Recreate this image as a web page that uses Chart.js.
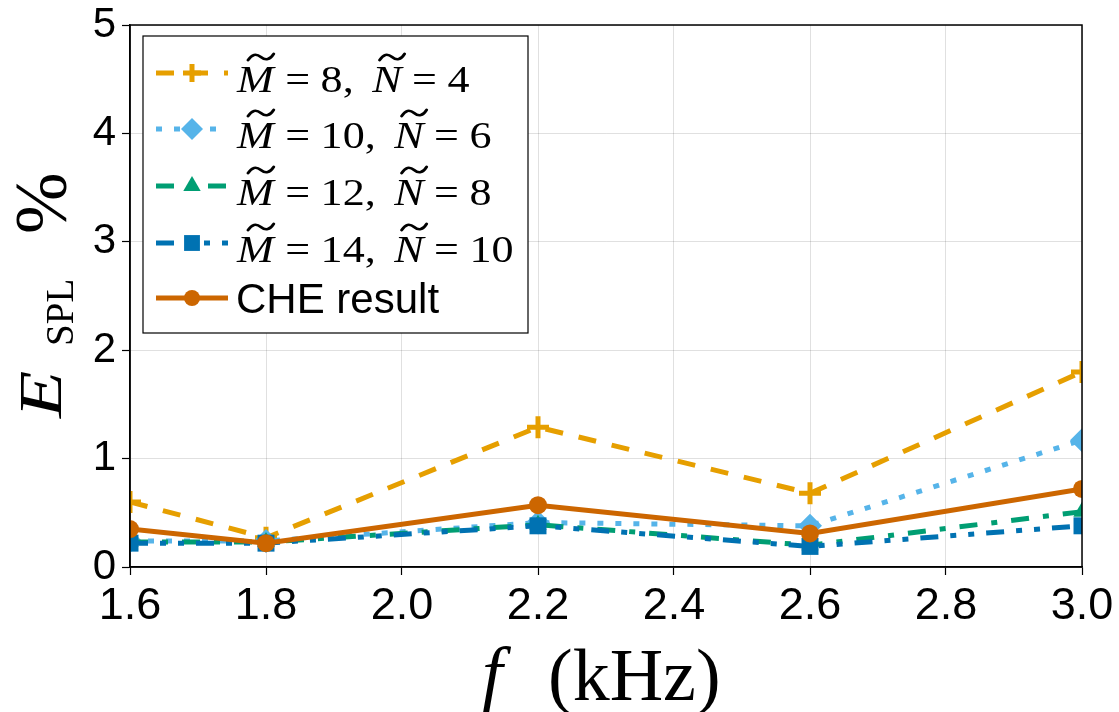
<!DOCTYPE html>
<html><head><meta charset="utf-8">
<script src="https://cdn.jsdelivr.net/npm/chart.js@4/dist/chart.umd.min.js"></script>
<style>html,body{margin:0;padding:0;background:#fff;}#wrap{width:1119px;height:712px;}</style>
</head><body><div id="wrap"><canvas id="c" width="1119" height="712"></canvas></div>
<script>
// ---- data ----
const freqs = [1.6, 1.8, 2.2, 2.6, 3.0];
const m8n4 = [0.60, 0.27, 1.29, 0.68, 1.80];
const m10n6 = [0.24, 0.24, 0.41, 0.38, 1.17];
const m12n8 = [0.23, 0.23, 0.39, 0.20, 0.51];
const m14n10 = [0.22, 0.22, 0.38, 0.19, 0.38];
const cheResult = [0.35, 0.22, 0.57, 0.31, 0.72];
const xTicks = [1.6, 1.8, 2.0, 2.2, 2.4, 2.6, 2.8, 3.0];
const yTicks = [0, 1, 2, 3, 4, 5];
const mValues = ['8', '10', '12', '14'];
const nValues = ['4', '6', '8', '10'];
const cheLabel = 'CHE result';
const xTitleVar = 'f';
const xTitleUnit = '(kHz)';
const yTitleMain = 'E';
const yTitleSub = 'SPL';
const yTitlePct = '%';

// ---- styles ----
const styles = [
  {color:'#E69F00', dash:[18,16], point:'cross', r:11, lr:9},
  {color:'#56B4E9', dash:[6,12], point:'rectRot', r:12, lr:11},
  {color:'#009E73', dash:[18,14,6,14], point:'triangle', r:10, lr:10},
  {color:'#0072B2', dash:[18,12,6,12,6,12], point:'rect', r:12, lr:11},
  {color:'#CC6600', dash:[], point:'circle', r:9, lr:8}
];
const seriesValues = [m8n4, m10n6, m12n8, m14n10, cheResult];
const seriesNames = mValues.map((m,i)=>'M̃ = '+m+', Ñ = '+nValues[i]).concat([cheLabel]);

const datasets = seriesValues.map((vals, i) => {
  const s = styles[i];
  return {
    label: seriesNames[i],
    data: freqs.map((f, k) => ({x: f, y: vals[k]})),
    borderColor: s.color,
    backgroundColor: s.color,
    borderWidth: 5,
    borderDash: s.dash,
    pointStyle: s.point,
    pointRadius: s.r,
    pointHoverRadius: s.r,
    pointBackgroundColor: s.color,
    pointBorderColor: s.color,
    pointBorderWidth: s.point === 'cross' ? 5 : 0,
    tension: 0,
    fill: false,
    clip: 0,
    order: 4 - i
  };
});

function drawMarker(ctx, type, x, y, r, color) {
  ctx.save();
  ctx.fillStyle = color; ctx.strokeStyle = color; ctx.setLineDash([]);
  ctx.beginPath();
  if (type === 'cross') {
    ctx.lineWidth = 5;
    ctx.moveTo(x - r, y); ctx.lineTo(x + r, y);
    ctx.moveTo(x, y - r); ctx.lineTo(x, y + r);
    ctx.stroke();
  } else if (type === 'rectRot') {
    ctx.moveTo(x, y - r); ctx.lineTo(x + r, y); ctx.lineTo(x, y + r); ctx.lineTo(x - r, y); ctx.closePath(); ctx.fill();
  } else if (type === 'triangle') {
    ctx.moveTo(x, y - r); ctx.lineTo(x + r * 0.87, y + r * 0.5); ctx.lineTo(x - r * 0.87, y + r * 0.5); ctx.closePath(); ctx.fill();
  } else if (type === 'rect') {
    const s = r * 0.72;
    ctx.rect(x - s, y - s, 2 * s, 2 * s); ctx.fill();
  } else {
    ctx.arc(x, y, r, 0, Math.PI * 2); ctx.fill();
  }
  ctx.restore();
}

function drawTilde(ctx, x0, cy, w, a) {
  ctx.save();
  ctx.setLineDash([]);
  ctx.lineWidth = 2.6;
  ctx.strokeStyle = '#000';
  ctx.lineCap = 'round';
  ctx.beginPath();
  ctx.moveTo(x0, cy + a);
  ctx.quadraticCurveTo(x0 + w * 0.22, cy - 1.8 * a, x0 + w * 0.5, cy);
  ctx.quadraticCurveTo(x0 + w * 0.78, cy + 1.8 * a, x0 + w, cy - a);
  ctx.stroke();
  ctx.restore();
}

function drawMathRow(ctx, x, base, m, n) {
  const F = 38, SX = 1.16;
  const it = 'italic ' + F + 'px "Liberation Serif"';
  const rm = F + 'px "Liberation Serif"';
  ctx.save();
  ctx.translate(x, base);
  ctx.scale(SX, 1);
  ctx.fillStyle = '#000';
  ctx.textBaseline = 'alphabetic';
  ctx.textAlign = 'left';
  let cx = 0;
  ctx.font = it; ctx.fillText('M', cx, 0);
  let w = ctx.measureText('M').width;
  drawTilde(ctx, cx + w * 0.3, -35, w * 0.7, 3.2);
  cx += w + 10;
  ctx.font = rm; ctx.fillText('=', cx, 0); cx += ctx.measureText('=').width + 9;
  ctx.fillText(m + ',', cx, 0); cx += ctx.measureText(m + ',').width + 16;
  ctx.font = it; ctx.fillText('N', cx, 0);
  w = ctx.measureText('N').width;
  drawTilde(ctx, cx + w * 0.25, -35, w * 0.85, 3.2);
  cx += w + 9;
  ctx.font = rm; ctx.fillText('=', cx, 0); cx += ctx.measureText('=').width + 9;
  ctx.fillText(n, cx, 0);
  ctx.restore();
}

const decorPlugin = {
  id: 'decor',
  afterDraw(chart) {
    const ctx = chart.ctx;
    const ca = chart.chartArea;
    // frame
    ctx.save();
    ctx.strokeStyle = '#000'; ctx.lineWidth = 1.5; ctx.setLineDash([]);
    ctx.strokeRect(ca.left, ca.top, ca.right - ca.left, ca.bottom - ca.top);
    ctx.restore();

    // legend
    const lx = 143, ly = 36, lw = 385, lh = 297;
    ctx.save();
    ctx.fillStyle = '#fff';
    ctx.fillRect(lx, ly, lw, lh);
    ctx.strokeStyle = '#000'; ctx.lineWidth = 1.2;
    ctx.strokeRect(lx, ly, lw, lh);
    const rowY = [73, 129, 186, 243, 298];
    for (let i = 0; i < 5; i++) {
      const s = styles[i];
      const y = rowY[i];
      ctx.save();
      ctx.strokeStyle = s.color; ctx.lineWidth = 5; ctx.setLineDash(s.dash);
      ctx.beginPath(); ctx.moveTo(156, y); ctx.lineTo(228, y); ctx.stroke();
      ctx.restore();
      drawMarker(ctx, s.point, 192, y, s.lr, s.color);
      if (i < 4) {
        drawMathRow(ctx, 237, y + 19, mValues[i], nValues[i]);
      } else {
        ctx.fillStyle = '#000';
        ctx.font = '42px "Liberation Sans"';
        ctx.textBaseline = 'alphabetic';
        ctx.fillText(cheLabel, 236, y + 15);
      }
    }
    ctx.restore();

    // x title
    ctx.save();
    ctx.fillStyle = '#000';
    ctx.textBaseline = 'alphabetic';
    ctx.font = 'italic 74px "Liberation Serif"';
    ctx.fillText(xTitleVar, 482, 698);
    ctx.font = '74px "Liberation Serif"';
    ctx.fillText(xTitleUnit, 548, 700);
    ctx.restore();

    // y title
    ctx.save();
    ctx.fillStyle = '#000';
    ctx.textBaseline = 'alphabetic';
    ctx.translate(61, 418);
    ctx.rotate(-Math.PI / 2);
    ctx.save();
    ctx.scale(1.25, 1);
    ctx.font = 'italic 62px "Liberation Serif"';
    ctx.fillText(yTitleMain, 0, 0);
    ctx.restore();
    ctx.font = '39px "Liberation Serif"';
    ctx.fillText(yTitleSub, 72, 12);
    ctx.font = '74px "Liberation Serif"';
    ctx.fillText(yTitlePct, 184, 5);
    ctx.restore();
  }
};

new Chart(document.getElementById('c'), {
  type: 'line',
  data: { datasets },
  options: {
    responsive: false,
    devicePixelRatio: 1,
    animation: false,
    events: [],
    layout: { padding: { top: 25, right: 37, left: 0, bottom: 0 } },
    plugins: { legend: { display: false }, tooltip: { enabled: false } },
    scales: {
      x: {
        type: 'linear', min: 1.6, max: 3.0,
        afterBuildTicks: (sc) => { sc.ticks = xTicks.map(v => ({ value: v })); },
        afterFit: (sc) => { sc.height = 145; sc.paddingLeft = 0; sc.paddingRight = 0; },
        ticks: {
          callback: (v) => Number(v).toFixed(1),
          font: { family: '"Liberation Sans"', size: 45 },
          color: '#000', padding: 5, maxRotation: 0, autoSkip: false
        },
        grid: { color: 'rgba(0,0,0,0.12)', lineWidth: 1, tickColor: '#000', tickLength: 8, tickWidth: 1.2 },
        border: { display: true, color: '#000', width: 1.5 }
      },
      y: {
        type: 'linear', min: 0, max: 5,
        afterBuildTicks: (sc) => { sc.ticks = yTicks.map(v => ({ value: v })); },
        afterFit: (sc) => { sc.width = 130; sc.paddingTop = 0; sc.paddingBottom = 0; },
        ticks: {
          callback: (v) => String(v),
          font: { family: '"Liberation Sans"', size: 42 },
          color: '#000', padding: 6
        },
        grid: { color: 'rgba(0,0,0,0.12)', lineWidth: 1, tickColor: '#000', tickLength: 8, tickWidth: 1.2 },
        border: { display: true, color: '#000', width: 1.5 }
      }
    }
  },
  plugins: [decorPlugin]
});
</script>
</body></html>
